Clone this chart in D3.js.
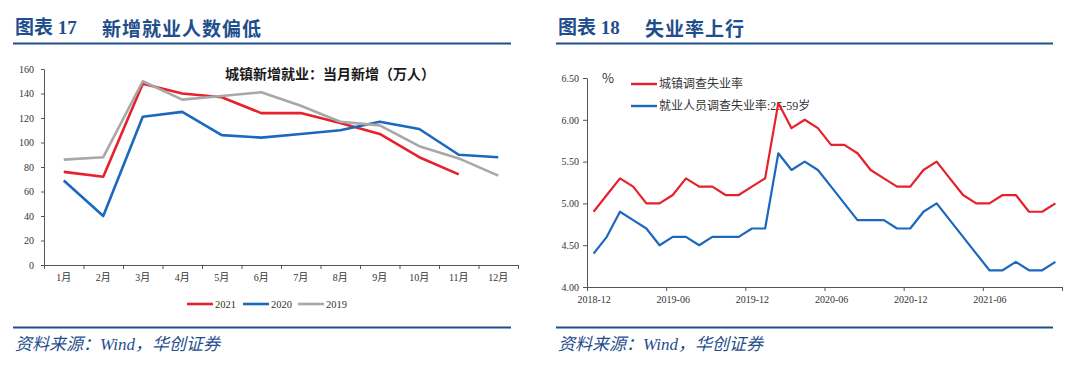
<!DOCTYPE html>
<html><head><meta charset="utf-8">
<script src="https://cdn.jsdelivr.net/npm/d3@7"></script>
<style>body{margin:0;background:#fff}svg{display:block}</style>
</head><body>
<svg id="c" width="1080" height="369"></svg>
<script>
// ---------- data: left chart ----------
const months = ["1月","2月","3月","4月","5月","6月","7月","8月","9月","10月","11月","12月"];
const jobs2021 = [76,72,148,140,137,124,124,116,107,88,74];
const jobs2020 = [69,40,121,125,106,104,107,110,117,111,90,88];
const jobs2019 = [86,88,150,135,138,141,130,117,114,97,87,73];
const jobsYTicks = [0,20,40,60,80,100,120,140,160];
const jobsSeriesNames = ["2021","2020","2019"];

// ---------- data: right chart ----------
const rateMonths = ["2018-12","2019-01","2019-02","2019-03","2019-04","2019-05","2019-06","2019-07","2019-08","2019-09","2019-10","2019-11",
  "2019-12","2020-01","2020-02","2020-03","2020-04","2020-05","2020-06","2020-07","2020-08","2020-09","2020-10","2020-11",
  "2020-12","2021-01","2021-02","2021-03","2021-04","2021-05","2021-06","2021-07","2021-08","2021-09","2021-10","2021-11"];
const urbanRate = [4.9,5.1,5.3,5.2,5.0,5.0,5.1,5.3,5.2,5.2,5.1,5.1,5.2,5.3,6.2,5.9,6.0,5.9,5.7,5.7,5.6,5.4,5.3,5.2,5.2,5.4,5.5,5.3,5.1,5.0,5.0,5.1,5.1,4.9,4.9,5.0];
const primeRate = [4.4,4.6,4.9,4.8,4.7,4.5,4.6,4.6,4.5,4.6,4.6,4.6,4.7,4.7,5.6,5.4,5.5,5.4,5.2,5.0,4.8,4.8,4.8,4.7,4.7,4.9,5.0,4.8,4.6,4.4,4.2,4.2,4.3,4.2,4.2,4.3];
const rateXTickLabels = ["2018-12","2019-06","2019-12","2020-06","2020-12","2021-06"];
const rateYTicks = [4.0,4.5,5.0,5.5,6.0,6.5];
const rateSeriesNames = ["城镇调查失业率","就业人员调查失业率:25-59岁"];

const RED = "#E6212B", BLUE = "#1B68BE", GRAY = "#A8A8A8", NAVY = "#1F4E8D", AXIS = "#555";
const SERIF = "'Liberation Serif','Noto Sans CJK SC',serif";
const CJK = "'Noto Sans CJK SC',sans-serif";

const svg = d3.select("#c");
svg.append("rect").attr("width",1080).attr("height",369).attr("fill","#fff");

// ---------- headers / footers ----------
function frame(x0, x1, num, title) {
  svg.append("text").attr("x", x0 + 2).attr("y", 27).attr("dominant-baseline","central")
    .attr("font-family", SERIF).attr("font-weight", 700).attr("font-size", 19)
    .attr("fill", NAVY).text("图表 " + num);
  svg.append("text").attr("x", x0 + 89).attr("y", 27).attr("dominant-baseline","central")
    .attr("font-family", CJK).attr("font-weight", 700).attr("font-size", 19)
    .attr("letter-spacing", 1).attr("fill", NAVY).text(title);
  svg.append("line").attr("x1", x0).attr("x2", x1).attr("y1", 43.5).attr("y2", 43.5)
    .attr("stroke", NAVY).attr("stroke-width", 2);
  svg.append("line").attr("x1", x0).attr("x2", x1).attr("y1", 327.5).attr("y2", 327.5)
    .attr("stroke", NAVY).attr("stroke-width", 2);
  svg.append("text").attr("x", x0 + 2).attr("y", 344).attr("dominant-baseline","central")
    .attr("font-family", SERIF).attr("font-style","italic").attr("font-size", 17)
    .attr("fill", NAVY).text("资料来源：Wind，华创证券");
}
frame(13, 511, "17", "新增就业人数偏低");
frame(556, 1053, "18", "失业率上行");

function styleAxis(g, fontFamily) {
  g.selectAll("path.domain").attr("stroke", AXIS);
  g.selectAll(".tick line").attr("stroke", AXIS);
  g.selectAll("text").attr("font-family", fontFamily).attr("font-size", 10).attr("fill", "#333");
}

// ---------- left chart ----------
{
  const x = d3.scaleBand().domain(months).range([44, 518]);
  const xEdge = d3.scaleLinear().domain([0, months.length]).range([44, 518]);
  const y = d3.scaleLinear().domain([0, 160]).range([265, 69]);

  const gy = svg.append("g").attr("transform","translate(44,0)")
    .call(d3.axisLeft(y).tickValues(jobsYTicks).tickSize(3).tickSizeOuter(0).tickPadding(7));
  styleAxis(gy, SERIF);

  const gxl = svg.append("g").attr("transform","translate(0,265)")
    .call(d3.axisBottom(x).tickSize(0).tickSizeOuter(0).tickPadding(9));
  styleAxis(gxl, SERIF);
  const gxt = svg.append("g").attr("transform","translate(0,265)")
    .call(d3.axisBottom(xEdge).tickValues(d3.range(months.length + 1)).tickSize(4).tickFormat(""));
  gxt.select("path.domain").remove();
  styleAxis(gxt, SERIF);

  const line = d3.line().x((d,i) => x(months[i]) + x.bandwidth()/2).y(d => y(d));
  const series = [[jobs2021, RED], [jobs2020, BLUE], [jobs2019, GRAY]];
  series.forEach(([vals, col]) => {
    svg.append("path").attr("d", line(vals)).attr("fill","none").attr("stroke", col)
      .attr("stroke-width", 2.6).attr("stroke-linejoin","round");
  });

  svg.append("text").attr("x", 225).attr("y", 73).attr("dominant-baseline","central")
    .attr("font-family", CJK).attr("font-weight", 700).attr("font-size", 14)
    .attr("fill", "#1a1a1a").text("城镇新增就业：当月新增（万人）");

  // legend
  const lx = [187, 243, 298];
  series.forEach(([vals, col], i) => {
    svg.append("line").attr("x1", lx[i]).attr("x2", lx[i] + 26).attr("y1", 304).attr("y2", 304)
      .attr("stroke", col).attr("stroke-width", 2.6);
    svg.append("text").attr("x", lx[i] + 28).attr("y", 304).attr("dominant-baseline","central")
      .attr("font-family", SERIF).attr("font-size", 10.5).attr("fill", "#333").text(jobsSeriesNames[i]);
  });
}

// ---------- right chart ----------
{
  const n = rateMonths.length;
  const x = d3.scaleLinear().domain([0, n]).range([587, 1062]);
  const y = d3.scaleLinear().domain([4, 6.5]).range([287, 78]);

  const gy = svg.append("g").attr("transform","translate(587,0)")
    .call(d3.axisLeft(y).tickValues(rateYTicks).tickSize(4).tickSizeOuter(0).tickPadding(4).tickFormat(d3.format(".2f")));
  styleAxis(gy, SERIF);

  const tickIdx = rateXTickLabels.map(l => rateMonths.indexOf(l));
  const gxl = svg.append("g").attr("transform","translate(0,287)")
    .call(d3.axisBottom(x).tickValues(tickIdx.map(i => i + 0.5)).tickSize(0).tickSizeOuter(0).tickPadding(9)
      .tickFormat((d,i) => rateXTickLabels[i]));
  styleAxis(gxl, SERIF);
  const gxt = svg.append("g").attr("transform","translate(0,287)")
    .call(d3.axisBottom(x).tickValues(tickIdx.concat([n])).tickSize(4).tickFormat(""));
  gxt.select("path.domain").remove();
  styleAxis(gxt, SERIF);

  svg.append("text").attr("x", 602).attr("y", 77).attr("dominant-baseline","central")
    .attr("font-family", CJK).attr("font-size", 13).attr("fill", "#333").text("%");

  const cols = [RED, BLUE];
  const ly = [84, 106];
  cols.forEach((col, i) => {
    svg.append("line").attr("x1", 631).attr("x2", 657).attr("y1", ly[i]).attr("y2", ly[i])
      .attr("stroke", col).attr("stroke-width", 2.4);
    svg.append("text").attr("x", 659).attr("y", ly[i]).attr("dominant-baseline","central")
      .attr("font-family", SERIF).attr("font-size", 12).attr("fill", "#333").text(rateSeriesNames[i]);
  });

  const line = d3.line().x((d,i) => x(i + 0.5)).y(d => y(d));
  [[urbanRate, RED], [primeRate, BLUE]].forEach(([vals, col]) => {
    svg.append("path").attr("d", line(vals)).attr("fill","none").attr("stroke", col)
      .attr("stroke-width", 2.2).attr("stroke-linejoin","round");
  });
}
</script>
</body></html>
